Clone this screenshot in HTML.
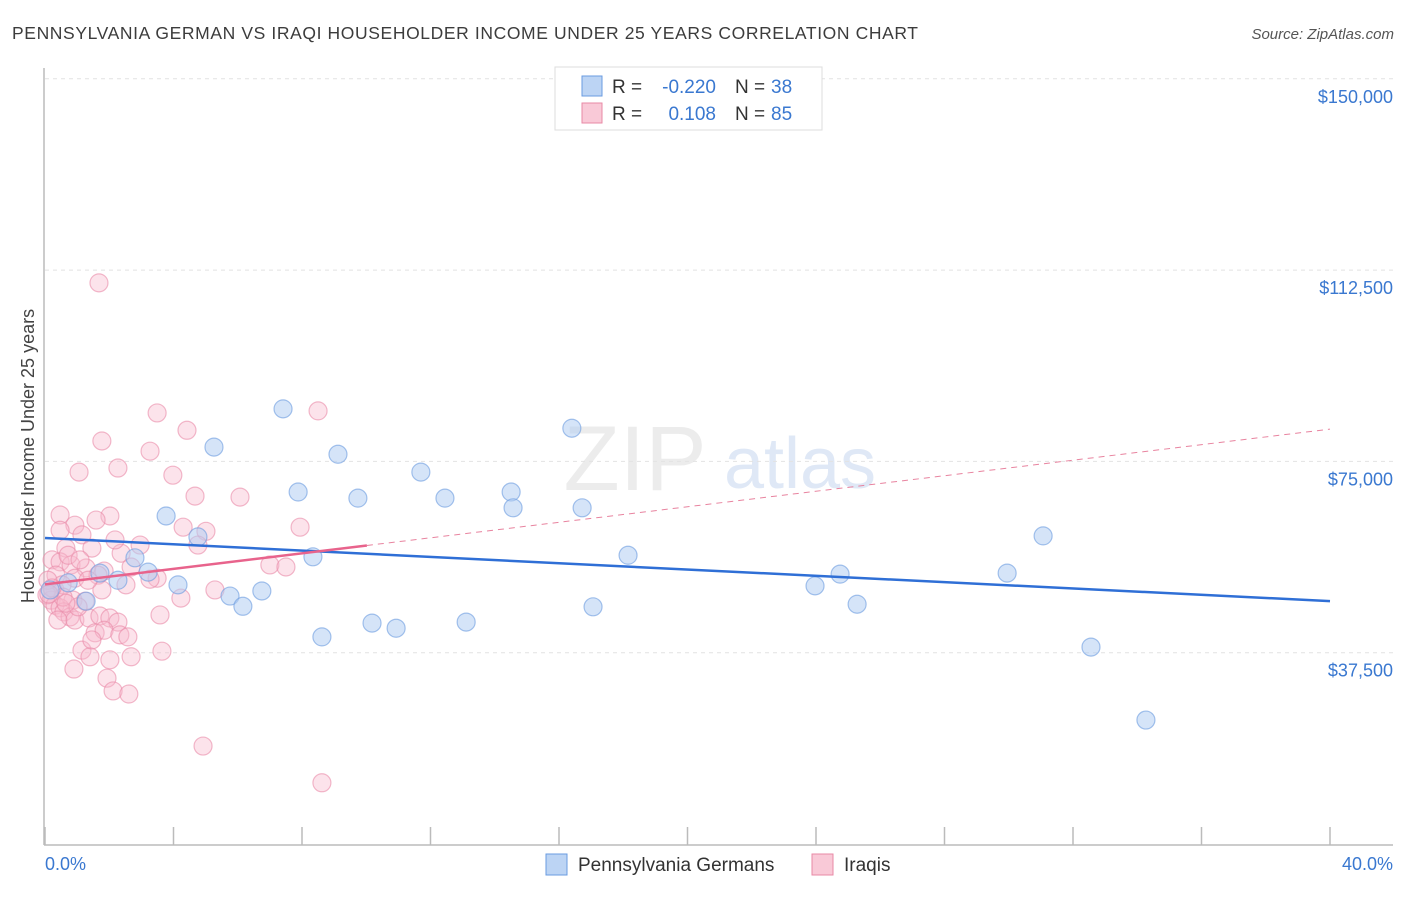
<!DOCTYPE html>
<html><head><meta charset="utf-8"><style>
body{margin:0;background:#fff;font-family:"Liberation Sans",sans-serif}
svg text{font-family:"Liberation Sans",sans-serif}
</style></head><body>
<svg id="c" width="1406" height="892" viewBox="0 0 1406 892">
<text x="12" y="39" font-size="17.5" fill="#3c3c3c" textLength="906" lengthAdjust="spacing">PENNSYLVANIA GERMAN VS IRAQI HOUSEHOLDER INCOME UNDER 25 YEARS CORRELATION CHART</text>
<text x="1394" y="39" font-size="15" fill="#555" font-style="italic" text-anchor="end">Source: ZipAtlas.com</text>
<g>
<text x="635" y="490" font-size="92" fill="#ececec" font-family="Liberation Serif" text-anchor="middle">ZIP</text>
<text x="800" y="488" font-size="72" fill="#dfe8f6" text-anchor="middle">atlas</text>
</g>
<g id="grid"></g>
<g id="axes"></g>
<g id="marks"></g>
<text transform="translate(34,456) rotate(-90)" font-size="18" fill="#444" text-anchor="middle">Householder Income Under 25 years</text>
<text x="45" y="870" font-size="18" fill="#3a78d0">0.0%</text>
<text x="1393" y="870" font-size="18" fill="#3a78d0" text-anchor="end">40.0%</text>
<g>
<rect x="555" y="67" width="267" height="63" fill="#fff" stroke="#ddd"/>
<rect x="582" y="76" width="20" height="20" fill="#bcd4f4" stroke="#6a9be0"/>
<rect x="582" y="103" width="20" height="20" fill="#f9c9d7" stroke="#e889a6"/>
<text x="612" y="93" font-size="19" fill="#333">R =</text>
<text x="716" y="93" font-size="19" fill="#3a78d0" text-anchor="end">-0.220</text>
<text x="735" y="93" font-size="19" fill="#333">N =</text>
<text x="771" y="93" font-size="19" fill="#3a78d0">38</text>
<text x="612" y="120" font-size="19" fill="#333">R =</text>
<text x="716" y="120" font-size="19" fill="#3a78d0" text-anchor="end">0.108</text>
<text x="735" y="120" font-size="19" fill="#333">N =</text>
<text x="771" y="120" font-size="19" fill="#3a78d0">85</text>
</g>
<g>
<rect x="546" y="854" width="21" height="21" fill="#bcd4f4" stroke="#6a9be0"/>
<text x="578" y="871" font-size="19" fill="#333">Pennsylvania Germans</text>
<rect x="812" y="854" width="21" height="21" fill="#f9c9d7" stroke="#e889a6"/>
<text x="844" y="871" font-size="19" fill="#333">Iraqis</text>
</g>
</svg>
<script>
const yTicks=[37500,75000,112500,150000];
const yTickLabels=["$37,500","$75,000","$112,500","$150,000"];
const xTicks=[0,4,8,12,16,20,24,28,32,36,40];
const blueX=[0.16,0.72,1.28,1.71,2.27,2.80,3.21,3.77,4.14,4.76,5.26,5.76,6.16,6.75,7.41,7.88,8.34,8.62,9.12,9.74,10.18,10.93,11.70,12.45,13.11,14.51,14.57,16.40,16.72,17.06,18.15,23.97,24.75,25.28,29.95,31.07,32.56,34.27];
const blueY=[49.8,51.2,47.6,53.1,51.7,56.1,53.3,64.3,50.8,60.2,77.8,48.6,46.6,49.6,85.3,69.0,56.3,40.6,76.4,67.8,43.3,42.3,72.9,67.8,43.5,69.0,65.9,81.5,65.9,46.5,56.6,50.6,52.9,47.0,53.1,60.4,38.6,24.3];
const pinkX=[1.68,3.49,8.50,4.42,1.77,3.27,2.27,1.06,3.98,4.67,6.07,0.47,2.02,0.93,4.30,5.01,7.94,1.15,4.76,0.65,1.46,2.37,0.22,0.47,0.81,1.28,1.84,2.68,0.34,1.65,0.93,7.00,7.50,0.31,0.53,0.87,1.25,1.77,2.52,3.49,3.27,0.06,0.19,0.31,0.47,0.59,0.78,0.93,1.37,1.71,2.02,2.27,3.58,4.23,5.29,1.56,1.84,2.33,2.58,1.15,1.40,2.02,2.68,3.64,0.90,1.93,2.12,2.61,4.92,8.62,0.47,0.72,1.09,1.59,0.56,1.03,1.34,2.18,2.96,0.09,0.22,0.40,0.65,1.46,0.12];
const pinkY=[110.0,84.5,84.9,81.1,79.0,77.0,73.7,72.9,72.3,68.2,68.0,64.5,64.3,62.5,62.1,61.3,62.1,60.6,58.6,58.0,58.0,57.0,55.7,55.3,54.7,54.1,53.5,54.3,52.7,52.7,52.1,54.7,54.3,49.8,50.8,47.8,47.6,49.8,50.8,52.1,51.9,48.8,47.8,46.8,46.3,45.5,44.5,43.9,44.3,44.7,44.3,43.5,44.9,48.2,49.8,41.4,41.9,41.0,40.6,38.0,36.7,36.1,36.7,37.8,34.3,32.5,30.0,29.4,19.2,12.0,61.5,56.6,55.7,63.5,48.4,46.5,51.7,59.6,58.6,51.7,50.2,43.9,47.2,40.0,49.0];
const NS='http://www.w3.org/2000/svg';
const X=v=>45+v*(1285/40);
const Y=v=>844-v*1000*(191.3/37500);
function mk(t,a,p){const e=document.createElementNS(NS,t);for(const k in a)e.setAttribute(k,a[k]);p.appendChild(e);return e;}
const grid=document.getElementById('grid'),axes=document.getElementById('axes'),marks=document.getElementById('marks');
yTicks.forEach((t,i)=>{
 const l=mk('line',{x1:45,x2:1393,y1:Y(t/1000),y2:Y(t/1000),stroke:'#e2e2e2','stroke-dasharray':'4 4'},grid);
 
 
 const tx=mk('text',{x:1393,y:Y(t/1000)+24,'font-size':18,fill:'#3a78d0','text-anchor':'end'},grid);
 tx.textContent=yTickLabels[i];
 
 
});
const ya=mk('line',{x1:44,x2:44,y1:68,y2:845,stroke:'#bbb','stroke-width':1.5},axes);


const xa=mk('line',{x1:44,x2:1393,y1:845,y2:845,stroke:'#bbb','stroke-width':1.5},axes);


xTicks.forEach(t=>{
 const l=mk('line',{x1:X(t),x2:X(t),y1:827,y2:845,stroke:'#bbb','stroke-width':1.5},axes);
 
 
});
function reg(xs,ys){const n=xs.length;let mx=0,my=0;for(let i=0;i<n;i++){mx+=xs[i];my+=ys[i];}mx/=n;my/=n;let sxy=0,sxx=0;for(let i=0;i<n;i++){sxy+=(xs[i]-mx)*(ys[i]-my);sxx+=(xs[i]-mx)**2;}const b=sxy/sxx;return [my-b*mx,b];}
function pts(xs,ys,fill,stroke,fo,name){xs.forEach((x,i)=>{const c=mk('circle',{cx:X(x),cy:Y(ys[i]),r:9,fill:fill,'fill-opacity':fo,stroke:stroke,'stroke-opacity':0.6,'stroke-width':1.2},marks);
 
 });}
pts(pinkX,pinkY,'#f7b9cc','#e98aa8',0.4,'iraqi-point');
pts(blueX,blueY,'#b3cef2','#6a9be0',0.55,'pennsylvania-german-point');
const [ba,bb]=reg(blueX,blueY);
const bl=mk('line',{x1:X(0),y1:Y(ba),x2:X(40),y2:Y(ba+bb*40),stroke:'#2f6fd6','stroke-width':2.5},marks);


const [pa,pb]=reg(pinkX,pinkY);
const pxMax=Math.max(...pinkX)+1.4;
const pl=mk('line',{x1:X(0),y1:Y(pa),x2:X(pxMax),y2:Y(pa+pb*pxMax),stroke:'#e8638c','stroke-width':2.5},marks);


const pd=mk('line',{x1:X(pxMax),y1:Y(pa+pb*pxMax),x2:X(40),y2:Y(pa+pb*40),stroke:'#e8839f','stroke-width':1,'stroke-dasharray':'6 5'},marks);


</script>
</body></html>
